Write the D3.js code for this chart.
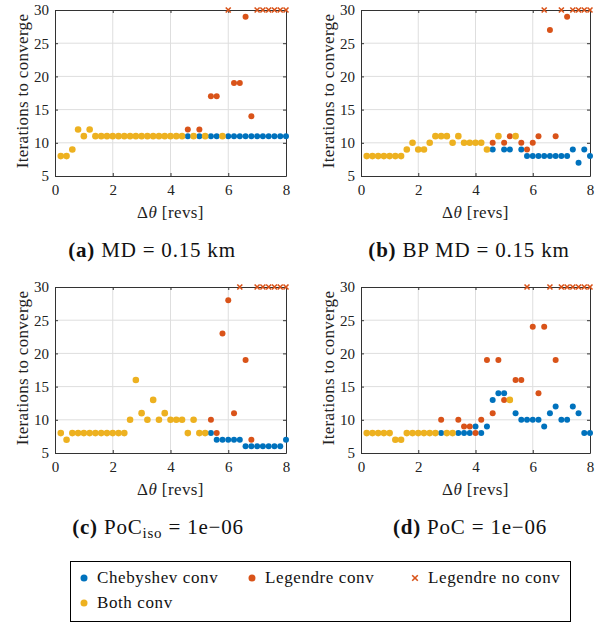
<!DOCTYPE html>
<html>
<head>
<meta charset="utf-8">
<script src="https://cdn.jsdelivr.net/npm/d3@7"></script>
<style>
  body { margin: 0; background: #fff; }
  svg { display: block; font-family: "Liberation Serif", "Times New Roman", serif; }
</style>
</head>
<body>
<script>
// sweep of delta theta, revs (0.2 .. 8.0)
const dTheta = d3.range(1, 41).map((i) => +(i * 0.2).toFixed(1));

// iterations to converge, null = Legendre did not converge (drawn at 30)
const chebA = [8, 8, 9, 12, 11, 12, 11, 11, 11, 11, 11, 11, 11, 11, 11, 11, 11, 11, 11, 11, 11, 11,
  11, 11, 11, 11, 11, 11, 11, 11, 11, 11, 11, 11, 11, 11, 11, 11, 11, 11];
const legA = [8, 8, 9, 12, 11, 12, 11, 11, 11, 11, 11, 11, 11, 11, 11, 11, 11, 11, 11, 11, 11, 11,
  12, 11, 12, 11, 17, 17, 11, null, 19, 19, 29, 14, null, null, null, null, null, null];

const chebB = [8, 8, 8, 8, 8, 8, 8, 9, 10, 9, 9, 10, 11, 11, 11, 10, 11, 10, 10, 10, 10, 9,
  9, 11, 9, 9, 11, 9, 8, 8, 8, 8, 8, 8, 8, 8, 9, 7, 9, 8];
const legB = [8, 8, 8, 8, 8, 8, 8, 9, 10, 9, 9, 10, 11, 11, 11, 10, 11, 10, 10, 10, 10, 9,
  10, 11, 10, 11, 11, 10, 9, 10, 11, null, 27, 11, null, 29, null, null, null, null];

const chebC = [8, 7, 8, 8, 8, 8, 8, 8, 8, 8, 8, 8, 10, 16, 11, 10, 13, 10, 11, 10, 10, 10, 8, 10, 8, 8,
  8, 7, 7, 7, 7, 7, 6, 6, 6, 6, 6, 6, 6, 7];
const legC = [8, 7, 8, 8, 8, 8, 8, 8, 8, 8, 8, 8, 10, 16, 11, 10, 13, 10, 11, 10, 10, 10, 8, 10, 8, 8,
  10, 8, 23, 28, 11, null, 19, 7, null, null, null, null, null, null];

const chebD = [8, 8, 8, 8, 8, 7, 7, 8, 8, 8, 8, 8, 8,
  8, 8, 8, 8, 8, 8, 9, 8, 9, 13, 14, 14, 13, 11, 10, 10, 10, 10, 9, 11, 12, 10, 10, 12, 11, 8, 8];
const legD = [8, 8, 8, 8, 8, 7, 7, 8, 8, 8, 8, 8, 8,
  10, 8, 8, 10, 9, 9, 8, 10, 19, 11, 19, 13, 13, 16, 16, null, 24, 14, 24, null, 19, null, null, null, null, null, null];

const xTicks = [0, 2, 4, 6, 8];
const yTicks = [5, 10, 15, 20, 25, 30];
const noConvLevel = 30;

const seriesNames = ["Chebyshev conv", "Legendre conv", "Legendre no conv", "Both conv"];
const colors = { cheb: "#0072BD", leg: "#D95319", both: "#EDB120" };
const serif = "Liberation Serif";

const width = 599, height = 623;
const svg = d3.select("body").append("svg")
  .attr("width", width)
  .attr("height", height)
  .attr("viewBox", [0, 0, width, height]);

const panels = [
  { cheb: chebA, leg: legA, x0: 55, x1: 286, y0: 10, y1: 176, capX: 152, label: "a", cap: ["MD = 0.15 km"] },
  { cheb: chebB, leg: legB, x0: 361, x1: 590, y0: 10, y1: 176, capX: 469, label: "b", cap: ["BP MD = 0.15 km"] },
  { cheb: chebC, leg: legC, x0: 55, x1: 286, y0: 287, y1: 453, capX: 158, label: "c", cap: ["PoC", "iso", " = 1e\u221206"] },
  { cheb: chebD, leg: legD, x0: 361, x1: 590, y0: 287, y1: 453, capX: 470, label: "d", cap: ["PoC = 1e\u221206"] },
];

function crossPath(cx, cy, s) {
  return `M${cx - s},${cy - s}L${cx + s},${cy + s}M${cx - s},${cy + s}L${cx + s},${cy - s}`;
}

panels.forEach((p) => {
  const x = d3.scaleLinear().domain([0, 8]).range([p.x0, p.x1]);
  const y = d3.scaleLinear().domain([5, 30]).range([p.y1, p.y0]);
  const g = svg.append("g");

  // grid
  g.append("g").selectAll("line").data(xTicks.slice(1, -1)).join("line")
    .attr("x1", (d) => x(d)).attr("x2", (d) => x(d))
    .attr("y1", p.y0).attr("y2", p.y1)
    .attr("stroke", "#dedede").attr("stroke-width", 1);
  g.append("g").selectAll("line").data(yTicks.slice(1, -1)).join("line")
    .attr("y1", (d) => y(d)).attr("y2", (d) => y(d))
    .attr("x1", p.x0).attr("x2", p.x1)
    .attr("stroke", "#dedede").attr("stroke-width", 1);

  // axes (MATLAB box style, ticks inside)
  const xAxis = d3.axisBottom(x).tickValues(xTicks).tickSizeInner(-3).tickSizeOuter(0).tickPadding(8);
  const yAxis = d3.axisLeft(y).tickValues(yTicks).tickSizeInner(-3).tickSizeOuter(0).tickPadding(6);
  g.append("g").attr("transform", `translate(0,${p.y1})`).call(xAxis);
  g.append("g").attr("transform", `translate(${p.x0},0)`).call(yAxis);
  g.append("g").attr("transform", `translate(0,${p.y0})`)
    .call(d3.axisTop(x).tickValues(xTicks).tickSizeInner(-3).tickSizeOuter(0).tickFormat(""));
  g.append("g").attr("transform", `translate(${p.x1},0)`)
    .call(d3.axisRight(y).tickValues(yTicks).tickSizeInner(-3).tickSizeOuter(0).tickFormat(""));
  g.selectAll(".domain").attr("stroke", "#333");
  g.selectAll(".tick line").attr("stroke", "#333");
  g.selectAll(".tick text").attr("font-family", serif).attr("font-size", 15).attr("fill", "#222");

  // axis titles
  const xt = g.append("text")
    .attr("x", (p.x0 + p.x1) / 2).attr("y", p.y1 + 42)
    .attr("text-anchor", "middle").attr("font-family", serif)
    .attr("font-size", 17).attr("letter-spacing", 0.4).attr("fill", "#222");
  xt.append("tspan").text("\u0394");
  xt.append("tspan").attr("font-style", "italic").text("\u03b8");
  xt.append("tspan").text(" [revs]");

  g.append("text")
    .attr("transform", `translate(${p.x0 - 27},${(p.y0 + p.y1) / 2 - 2}) rotate(-90)`)
    .attr("text-anchor", "middle").attr("font-family", serif)
    .attr("font-size", 17).attr("letter-spacing", 0.3).attr("fill", "#222")
    .text("Iterations to converge");

  // markers
  const both = [], chebOnly = [], legOnly = [], legFail = [];
  dTheta.forEach((t, i) => {
    const c = p.cheb[i], l = p.leg[i];
    if (l !== null && c === l) both.push([t, c]);
    else {
      chebOnly.push([t, c]);
      if (l === null) legFail.push([t, noConvLevel]);
      else legOnly.push([t, l]);
    }
  });

  g.append("g").selectAll("circle").data(chebOnly).join("circle")
    .attr("cx", (d) => x(d[0])).attr("cy", (d) => y(d[1])).attr("r", 3)
    .attr("fill", colors.cheb);
  g.append("g").selectAll("circle").data(legOnly).join("circle")
    .attr("cx", (d) => x(d[0])).attr("cy", (d) => y(d[1])).attr("r", 3)
    .attr("fill", colors.leg);
  g.append("g").selectAll("path").data(legFail).join("path")
    .attr("d", (d) => crossPath(x(d[0]), y(d[1]), 2.5))
    .attr("stroke", colors.leg).attr("stroke-width", 1.6).attr("fill", "none");
  g.append("g").selectAll("circle").data(both).join("circle")
    .attr("cx", (d) => x(d[0])).attr("cy", (d) => y(d[1])).attr("r", 3.3)
    .attr("fill", colors.both);

  // sub-caption
  const cap = svg.append("text")
    .attr("x", p.capX).attr("y", p.y1 + 81)
    .attr("text-anchor", "middle").attr("font-family", serif)
    .attr("font-size", 21).attr("letter-spacing", 0.8).attr("fill", "#111");
  cap.append("tspan").attr("font-weight", "bold").text(`(${p.label})`);
  cap.append("tspan").text(" " + p.cap[0]);
  if (p.cap.length > 1) {
    cap.append("tspan").attr("font-size", 15).attr("dy", 4).text(p.cap[1]);
    cap.append("tspan").attr("dy", -4).text(p.cap[2]);
  }
});

// legend
const lg = svg.append("g");
lg.append("rect").attr("x", 70.5).attr("y", 561.5).attr("width", 500).attr("height", 60)
  .attr("fill", "#fff").attr("stroke", "#000").attr("stroke-width", 1);
const legendItems = [
  { name: seriesNames[0], kind: "dot", color: colors.cheb, x: 84, y: 578 },
  { name: seriesNames[1], kind: "dot", color: colors.leg, x: 252, y: 578 },
  { name: seriesNames[2], kind: "cross", color: colors.leg, x: 415, y: 578 },
  { name: seriesNames[3], kind: "dot", color: colors.both, x: 84, y: 603 },
];
legendItems.forEach((it) => {
  if (it.kind === "dot") {
    lg.append("circle").attr("cx", it.x).attr("cy", it.y).attr("r", 3.5).attr("fill", it.color);
  } else {
    lg.append("path").attr("d", crossPath(it.x, it.y, 2.8))
      .attr("stroke", it.color).attr("stroke-width", 1.6).attr("fill", "none");
  }
  lg.append("text").attr("x", it.x + 13).attr("y", it.y + 5)
    .attr("font-family", serif).attr("font-size", 17).attr("letter-spacing", 0.6)
    .attr("fill", "#111").text(it.name);
});
</script>
</body>
</html>
